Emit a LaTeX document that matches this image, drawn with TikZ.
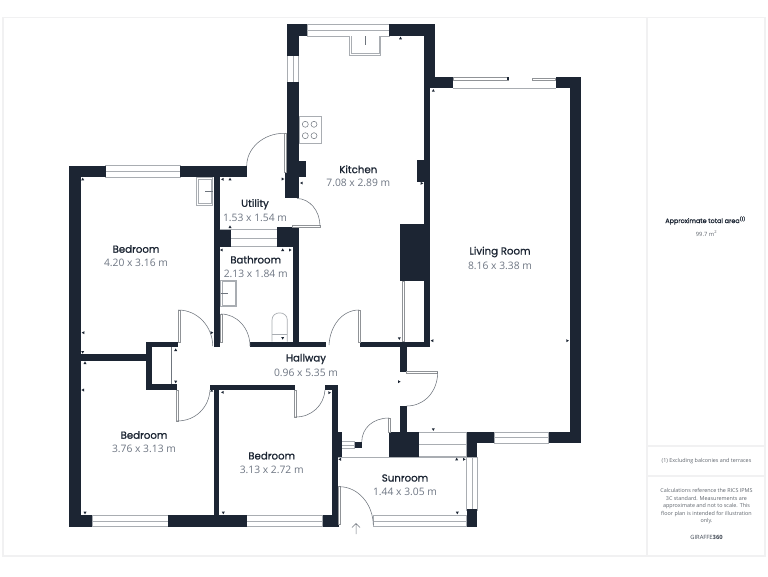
\documentclass[tikz,border=0pt]{standalone}
\usepackage{fontspec}
\setmainfont{Open Sans}
\newfontfamily\namefont[FakeBold=1]{Poppins}
\newfontfamily\headfont[FakeBold=0.8]{Poppins}
\definecolor{wallc}{HTML}{1C2533}
\definecolor{dimc}{HTML}{6E7683}
\definecolor{framec}{HTML}{F1F1F2}
\definecolor{winc}{HTML}{A9ADB2}
\definecolor{arcc}{HTML}{6F757D}
\definecolor{notec}{HTML}{5E646C}
\tikzset{
  x=1pt,y=-1pt,
  framel/.style={draw=framec,line width=1.4pt},
  wallf/.style={fill=wallc,draw=none},
  winbox/.style={draw=winc,fill=white,line width=.8pt},
  winmid/.style={draw=winc,line width=.8pt},
  leaf/.style={draw=winc!85!black,fill=white,line width=.6pt},
  swing/.style={draw=arcc,line width=.55pt},
  fixture/.style={draw=winc,fill=white,line width=1pt},
  thinmark/.style={draw=arcc,line width=.6pt},
  rname/.style={text=wallc,font=\namefont\fontsize{10.2}{12}\selectfont,inner sep=0pt},
  rdim/.style={text=dimc,font=\fontsize{10.3}{12}\selectfont,inner sep=0pt},
  smallnote/.style={text=notec,font=\fontsize{5.4}{7.4}\selectfont,inner sep=0pt,align=center},
  tickm/.style={fill=wallc,draw=none}
}
\newcommand{\wall}[4]{\fill[wallf] (#1,#2) rectangle (#3,#4);}
\newcommand{\winh}[4]{\draw[winbox] (#1,#2) rectangle (#3,#4); \draw[winmid] (#1,{(#2+#4)/2}) -- (#3,{(#2+#4)/2});}
\newcommand{\winv}[4]{\draw[winbox] (#1,#2) rectangle (#3,#4); \draw[winmid] ({(#1+#3)/2},#2) -- ({(#1+#3)/2},#4);}
\newcommand{\leafbox}[4]{\draw[leaf] (#1,#2) rectangle (#3,#4);}
\newcommand{\arcv}[4]{\draw[swing] (#1,#2) .. controls (#1,{#2+.55*(#4-#2)}) and ({#3-.55*(#3-#1)},#4) .. (#3,#4);}
\newcommand{\arch}[4]{\draw[swing] (#1,#2) .. controls ({#1+.55*(#3-#1)},#2) and (#3,{#4-.55*(#4-#2)}) .. (#3,#4);}
\newcommand{\tku}[2]{\fill[tickm] (#1,#2-1.6) -- (#1+1.5,#2+1) -- (#1-1.5,#2+1) -- cycle;}
\newcommand{\tkd}[2]{\fill[tickm] (#1,#2+1.6) -- (#1+1.5,#2-1) -- (#1-1.5,#2-1) -- cycle;}
\newcommand{\tkl}[2]{\fill[tickm] (#1-1.6,#2) -- (#1+1,#2+1.5) -- (#1+1,#2-1.5) -- cycle;}
\newcommand{\tkr}[2]{\fill[tickm] (#1+1.6,#2) -- (#1-1,#2+1.5) -- (#1-1,#2-1.5) -- cycle;}
\begin{document}
\begin{tikzpicture}
\useasboundingbox (0,0) rectangle (768,576);
\fill[white] (0,0) rectangle (768,576);
% page frame and side panel
\draw[framel] (3,17.5) rectangle (765,556);
\draw[framel] (647,17.5) -- (647,556);
\draw[framel] (647,446) -- (765,446);
\draw[framel] (647,476) -- (765,476);

% windows
\winh{307.3}{24.3}{389}{36}
\winv{287.3}{55.7}{298.7}{82.3}
\winh{105.7}{165.7}{180}{177.3}
\winh{92.3}{515.3}{168.3}{526.7}
\winh{246.7}{515.3}{322.7}{526.7}
\winh{494}{432.3}{548.7}{443.3}
\winh{418.7}{432.3}{466.7}{456.7}
\winh{373.3}{515.7}{466.7}{526.7}
\winv{466.7}{457}{477.3}{510}
\winh{230.7}{229.3}{277.3}{246.7}
\winh{341.7}{441.5}{354.7}{448.3}

% kitchen walls
\wall{287.3}{24.3}{307.3}{36}
\wall{287.3}{24.3}{298.7}{55.7}
\wall{287.3}{82.3}{298.7}{166}
\wall{389}{24.3}{435.3}{36}
\wall{424}{24.3}{435.3}{88.3}
\wall{285}{166}{298.5}{198.3}
\wall{298}{161}{305.5}{177}
\wall{417}{160}{424.3}{181.7}
\wall{424.3}{76.7}{453.3}{88.3}
\wall{424.3}{88}{430}{346.7}
\wall{400}{224.3}{424.5}{281}
% living room
\wall{555.7}{76.7}{581}{88.3}
\wall{570}{76.7}{581}{443.3}
\wall{548.7}{432.3}{581}{443.3}
\wall{466.7}{432.3}{494}{443.3}
\wall{466.7}{432.3}{477.3}{457.3}
\wall{389.3}{432.3}{418.7}{456.7}
\wall{400.3}{341.7}{406.7}{371.7}
\wall{400.3}{406}{406.7}{432.5}
\wall{360}{341.7}{430}{346.7}
% bedroom 1 and core
\wall{69.3}{165.7}{105.7}{177.3}
\wall{69.3}{165.7}{81}{526.7}
\wall{180}{165.7}{246.7}{177.3}
\wall{214}{177}{219.7}{346.7}
\wall{219.3}{230}{230.7}{246.7}
\wall{277.3}{226.7}{298.5}{246.7}
\wall{292.7}{226.7}{298.5}{346.7}
\wall{250}{341.7}{326}{346.7}
% closet
\wall{81}{354.3}{146}{360.7}
\wall{146}{341.7}{151.7}{390}
\wall{146}{341.7}{178.3}{347.3}
\wall{146}{384.3}{176.7}{390}
% lower walls
\wall{69.3}{515.3}{92.3}{526.7}
\wall{168.3}{515.3}{246.7}{526.7}
\wall{322.7}{515.3}{339}{526.7}
\wall{214}{384.5}{219.3}{516}
\wall{210}{384.5}{295.3}{390}
\wall{325}{384.5}{337.7}{390}
\wall{332}{384.5}{337.5}{516}
\wall{337}{432.3}{341.7}{456.7}
\wall{354.7}{441.7}{361.7}{448.3}
\wall{466.7}{509.3}{477.3}{526.7}

% thin lines
\draw[winmid] (453.3,88) -- (555.7,88);
\draw[winmid] (338,457) -- (466.7,457);
\draw[winmid] (219.5,229.3) -- (277.3,229.3);
\draw[thinmark] (171,347.3) -- (171,384.3);
\leafbox{402.3}{281}{404.3}{341.7}
% sliding doors
\leafbox{453.3}{77.5}{508}{80}
\leafbox{532.7}{77.8}{555.7}{79.8}
\fill[wallc] (506.8,77.2) rectangle (509.2,80.3);

% doors
\leafbox{284}{133.3}{286}{172}
\arch{284}{133.3}{246.7}{166}
\leafbox{292}{225.6}{320}{227.6}
\arcv{320}{226}{297}{198.5}
\leafbox{178.3}{310}{180.2}{342}
\arch{178.3}{310}{212.7}{346}
\leafbox{220}{314}{222}{342}
\arch{221}{314}{250}{346}
\leafbox{358.5}{310}{360.5}{342}
\draw[swing] (359,310) .. controls (342,310) and (330,326) .. (329,345);
\leafbox{176}{390}{178}{421}
\draw[swing] (177,421) .. controls (196,421) and (209,407) .. (210,390);
\leafbox{294.5}{390}{296.5}{417}
\draw[swing] (295.5,417) .. controls (312,417) and (324,405) .. (325,390);
\leafbox{406.5}{371}{437.7}{373}
\draw[swing] (437.7,372) .. controls (437.7,392) and (424,406) .. (406.7,406);
\leafbox{388}{418}{390}{432.3}
\draw[swing] (389,418) .. controls (373,418) and (362,428) .. (361.7,441.7);
\leafbox{338.5}{486.7}{340.5}{524}
\draw[swing] (339.5,486.7) .. controls (358,486.7) and (373,504) .. (373.3,525);
% entrance arrow
\draw[arcc,line width=.5pt] (356,534) -- (356,523.5) (352,527.5) -- (356,523.5) -- (360,527.5);

% fixtures
\draw[fixture] (349.3,36) -- (349.3,55) -- (380.7,55) -- (380.7,36);
\draw[fixture,line width=.6pt] (351,36) -- (351,53.5) -- (379,53.5) -- (379,36);
\draw[arcc,line width=.5pt] (365.7,36) -- (365.7,45);
\draw[fixture] (196.7,177.3) rectangle (212.7,205);
\draw[fixture,line width=.6pt] (198.2,178.8) rectangle (211.2,203.5);
\draw[arcc,line width=.5pt] (205,191.7) -- (213,191.7);
\draw[fixture] (220.7,280) rectangle (236.7,306.7);
\draw[fixture,line width=.6pt] (222.2,281.5) rectangle (235.2,305.2);
\draw[arcc,line width=.5pt] (220.7,293) -- (228,293);
\draw[winc,line width=.7pt,fill=white] (299.3,116.7) rectangle (321.7,143.3);
\foreach \cx/\cy in {305.3/124.3,314/124.3,305.3/135.7,314/135.7}
  \draw[arcc,line width=.5pt] (\cx,\cy) circle[radius=3];
\draw[winc,line width=.7pt] (272,341.7) -- (272,320) .. controls (272,310.5) and (287.3,310.5) .. (287.3,320) -- (287.3,341.7);
\draw[winc,line width=.6pt] (272,334) -- (287.3,334);

% dimension ticks
\tku{400.5}{38.3}\tku{433.3}{90.7}\tkr{282.7}{179}\tkl{301.7}{183}\tkr{421.7}{183.3}
\tku{82.7}{179.3}\tkl{222.7}{179.3}\tku{230}{179.3}\tku{230}{227}
\tkl{221.7}{250}\tku{282.7}{250}\tkr{290}{250}\tkl{83.3}{332.7}\tkr{211.7}{332.7}\tkd{282.7}{338}
\tkd{82.7}{352}\tku{85}{363}\tkl{83}{390}\tku{175.7}{350}\tkd{175.7}{381.7}
\tku{211.7}{390.7}\tkl{222.7}{392.3}\tkr{329.3}{392.7}\tkd{85}{512.7}\tkd{223.3}{512.7}
\tkd{399.3}{338.3}\tkl{432.3}{340.7}\tkr{567.3}{340.7}\tkr{399}{381.7}
\tkd{433.3}{429.3}\tkl{340}{459.3}\tku{456.7}{459.3}\tkr{464}{459.3}\tkd{457.3}{512.7}

% room labels
\node[rname] (nbed1) at (136,249) {Bedroom};
\node[rdim] (dbed1) at (136,263) {4.20 x 3.16 m};
\node[rname] (nutil) at (255,204.3) {Utility};
\node[rdim] (dutil) at (255,218.3) {1.53 x 1.54 m};
\node[rname] (nbath) at (255.7,259.7) {Bathroom};
\node[rdim] (dbath) at (255.7,273.7) {2.13 x 1.84 m};
\node[rname] (nkit) at (358.3,169.3) {Kitchen};
\node[rdim] (dkit) at (358.3,183.3) {7.08 x 2.89 m};
\node[rname] (nliv) at (500,252) {Living Room};
\node[rdim] (dliv) at (500,266) {8.16 x 3.38 m};
\node[rname] (nhall) at (306,359) {Hallway};
\node[rdim] (dhall) at (306,373) {0.96 x 5.35 m};
\node[rname] (nbed2) at (144,435) {Bedroom};
\node[rdim] (dbed2) at (144,449) {3.76 x 3.13 m};
\node[rname] (nbed3) at (271.7,455.7) {Bedroom};
\node[rdim] (dbed3) at (271.7,469.7) {3.13 x 2.72 m};
\node[rname] (nsun) at (405,478) {Sunroom};
\node[rdim] (dsun) at (405,492) {1.44 x 3.05 m};

% side panel text
\node[inner sep=0pt,text=wallc,font=\headfont\fontsize{6.4}{8}\selectfont] (atitle) at (705.5,220.5) {Approximate total area\textsuperscript{(1)}};
\node[smallnote,font=\fontsize{5.8}{8}\selectfont] (aval) at (706.5,233.5) {99.7 m\textsuperscript{2}};
\node[smallnote] (nexcl) at (706.5,461) {(1) Excluding balconies and terraces};
\node[smallnote,anchor=north] (ncalc) at (706.5,488.5) {Calculations reference the RICS IPMS\\3C standard. Measurements are\\approximate and not to scale. This\\floor plan is intended for illustration\\only.};
\node[inner sep=0pt,text=wallc!85,font=\fontsize{5.8}{7}\selectfont] (nbrand) at (706.5,537) {GIRAFFE\textbf{360}};
\end{tikzpicture}
\end{document}
